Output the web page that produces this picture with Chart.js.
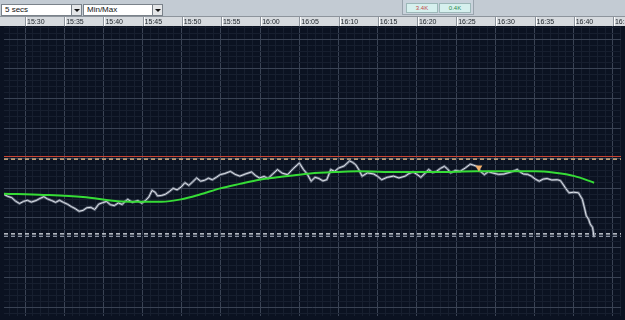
<!DOCTYPE html>
<html>
<head>
<meta charset="utf-8">
<script src="https://cdn.jsdelivr.net/npm/chart.js@4"></script>
<style>
  html, body { margin: 0; padding: 0; }
  body { width: 625px; height: 320px; background: #c3cbd3; position: relative; overflow: hidden; font-family: "Liberation Sans", Arial, sans-serif; }
  .toolbar { position: absolute; left: 0; top: 0; width: 625px; height: 16px; background: #c3cbd3; }
  .dd { position: absolute; top: 4px; height: 10px; background: #fff; border: 1px solid #7a828a; font-size: 8px; line-height: 10px; padding-left: 3px; color: #111; box-sizing: content-box; }
  .dd-btn { position: absolute; top: 4px; width: 9px; height: 10px; background: #e4e6e8; border: 1px solid #7a828a; }
  .dd-btn:after { content: ""; position: absolute; left: 2px; top: 4px; border-left: 3px solid transparent; border-right: 3px solid transparent; border-top: 3px solid #111; }
  .mini { position: absolute; left: 402px; top: -2px; width: 70px; height: 15px; background: #c9d3dc; border: 1px solid #9aa4ae; }
  .mini span { position: absolute; top: 4px; height: 8px; width: 30px; background: #d6f0ee; border: 1px solid #9cb8b8; font-size: 6px; line-height: 8px; text-align: center; }
  #wrap { position: absolute; left: 0; top: 16px; width: 625px; height: 304px; }
</style>
</head>
<body>
<div class="toolbar">
  <div class="dd" style="left:1px;width:66px;">5 secs</div>
  <div class="dd-btn" style="left:71px;"></div>
  <div class="dd" style="left:83px;width:65px;">Min/Max</div>
  <div class="dd-btn" style="left:152px;"></div>
  <div class="mini">
    <span style="left:3px;color:#c04848;">3.4K</span>
    <span style="left:36px;color:#2a8a4a;">0.4K</span>
  </div>
</div>
<div id="wrap"><canvas id="chart" width="625" height="304"></canvas></div>
<script>
// time in minutes of the day (15:30 = 930)
const priceTimes = [927.3, 927.8, 928.3, 928.8, 929.3, 929.8, 930.3, 930.8, 931.4, 931.9,
  932.4, 932.9, 933.4, 933.9, 934.4, 934.9, 935.4, 935.9, 936.4, 936.9,
  937.4, 937.9, 938.4, 938.9, 939.4, 939.9, 940.4, 940.9, 941.4, 941.9,
  942.4, 942.8, 943.1, 943.7, 944.4, 944.9, 945.4, 945.8, 946.2, 946.6,
  946.9, 947.4, 947.9, 948.4, 948.9, 949.4, 949.9, 950.4, 950.9, 951.4,
  951.9, 952.4, 952.9, 953.4, 953.9, 954.4, 954.9, 955.5, 956.2, 956.8,
  957.4, 958.2, 958.9, 959.4, 959.9, 960.5, 961.0, 961.6, 962.2, 962.8,
  963.5, 964.2, 965.0, 965.5, 966.0, 966.5, 967.0, 967.5, 968.0, 968.5,
  969.0, 969.5, 970.0, 970.7, 971.4, 971.8, 972.2, 972.6, 973.0, 973.7,
  974.5, 975.0, 975.5, 976.2, 977.0, 977.7, 978.5, 979.0, 979.5, 980.0,
  980.5, 981.0, 981.5, 982.0, 982.5, 983.0, 983.5, 983.9, 984.3, 984.9,
  985.5, 986.2, 986.8, 987.2, 987.6, 988.1, 988.6, 989.1, 989.6, 990.4,
  991.1, 992.0, 992.8, 993.2, 993.6, 994.1, 994.6, 995.1, 995.6, 996.1,
  996.6, 997.2, 997.9, 998.3, 998.6, 999.0, 999.4, 1000.0, 1000.6, 1001.1,
  1001.4, 1001.6, 1001.9, 1002.1, 1002.4, 1002.6];
const priceValues = [47.9, 47.2, 46.8, 45.6, 44.8, 45.5, 45.9, 45.3, 45.8, 46.5,
  47.1, 46.3, 45.8, 45.2, 45.9, 45.2, 44.6, 43.8, 43.1, 42.2,
  42.5, 43.4, 43.5, 42.8, 44.6, 45.1, 45.5, 44.4, 44.1, 45.0,
  44.5, 45.6, 46.2, 45.2, 45.8, 44.9, 45.9, 47.0, 49.2, 48.6,
  47.4, 47.5, 47.9, 48.8, 49.9, 49.4, 50.3, 51.8, 50.9, 52.1,
  53.4, 52.3, 52.6, 53.3, 52.8, 53.6, 54.5, 54.9, 55.6, 54.6,
  54.0, 54.8, 55.4, 54.2, 53.4, 53.9, 53.2, 54.7, 56.2, 55.0,
  54.5, 56.5, 58.4, 56.3, 54.7, 52.3, 53.6, 53.2, 52.4, 52.8,
  56.2, 55.6, 56.7, 57.4, 59.1, 58.6, 57.8, 56.1, 54.0, 55.1,
  54.7, 53.9, 52.8, 53.6, 54.0, 53.4, 54.0, 54.9, 55.4, 54.6,
  53.6, 54.9, 56.2, 55.2, 55.6, 56.6, 57.3, 56.4, 55.1, 55.9,
  55.6, 56.8, 58.0, 57.7, 57.3, 55.6, 54.5, 55.5, 55.1, 54.6,
  54.7, 55.4, 56.2, 55.3, 54.7, 54.6, 54.0, 53.0, 52.3, 53.0,
  53.2, 52.7, 52.8, 52.5, 51.4, 49.8, 48.4, 48.6, 48.4, 46.2,
  43.0, 40.7, 39.5, 37.9, 36.8, 33.5];

const avgTimes = [927.3, 932.4, 937.4, 942.4, 947.4, 949.9, 952.4, 954.9, 957.4, 959.9,
  962.5, 965.0, 967.5, 970.0, 972.5, 977.5, 982.5, 987.6, 992.6, 995.1,
  997.6, 1000.1, 1002.6];
const avgValues = [48.1, 47.7, 47.0, 45.5, 45.4, 46.2, 47.9, 49.9, 51.4, 52.8,
  53.7, 54.5, 55.1, 55.4, 55.6, 55.4, 55.4, 55.6, 55.6, 55.6,
  55.1, 54.0, 51.8];

// horizontal levels: high, high dashed, low dashed, low dashed
const levelValues = [60.6, 59.7, 34.6, 33.8];
const levelColors = ["#c84232", "#f2c890", "#e8ecf2", "#8a92a2"];
const levelDash = [[], [4, 3], [4, 3], [4, 3]];

const markerTimes = [987.9];
const markerValues = [56.9];

const xMin = 927.32, xMax = 1006.03;
const yMin = 7.05, yMax = 104.4;

function toPoints(xs, ys) {
  return xs.map((x, i) => ({ x: x, y: ys[i] }));
}

function fmtTime(v) {
  const h = Math.floor(v / 60);
  const m = Math.round(v - h * 60);
  return h + ":" + (m < 10 ? "0" + m : m);
}

const datasets = [];

datasets.push({
  data: toPoints(markerTimes, markerValues),
  showLine: false,
  pointStyle: "triangle",
  rotation: 180,
  pointRadius: 4,
  backgroundColor: "#f4b06c",
  borderColor: "#f4b06c",
  borderWidth: 0
});

datasets.push({
  data: toPoints(avgTimes, avgValues),
  borderColor: "#36dc36",
  borderWidth: 2,
  pointRadius: 0,
  cubicInterpolationMode: "monotone"
});

datasets.push({
  data: toPoints(priceTimes, priceValues),
  borderColor: "#dfe3ea",
  borderWidth: 1,
  pointRadius: 0,
  tension: 0
});

datasets.push({
  data: toPoints(priceTimes, priceValues),
  borderColor: "#646c7c",
  borderWidth: 2.6,
  pointRadius: 0,
  tension: 0
});

levelValues.forEach((v, i) => {
  datasets.push({
    data: [{ x: xMin, y: v }, { x: xMax, y: v }],
    borderColor: levelColors[i],
    borderWidth: 1.2,
    borderDash: levelDash[i],
    pointRadius: 0
  });
});

// background + time band
const bandPlugin = {
  id: "band",
  beforeDraw(chart) {
    const { ctx, chartArea } = chart;
    ctx.save();
    ctx.fillStyle = "#0b1221";
    ctx.fillRect(0, chartArea.top, chart.width, chart.height - chartArea.top);
    ctx.fillStyle = "#d6dade";
    ctx.fillRect(0, 0, chart.width, chartArea.top);
    ctx.fillStyle = "#8d949c";
    ctx.fillRect(0, 0, chart.width, 1);
    const xs = chart.scales.x;
    xs.ticks.forEach(t => {
      if (Math.round(t.value) % 5 !== 0) return;
      const px = Math.round(xs.getPixelForValue(t.value)) + 0.5;
      ctx.fillStyle = "#8d949c";
      ctx.fillRect(px - 0.5, 0, 1, chartArea.top);
      ctx.fillStyle = "#ffffff";
      ctx.fillRect(px + 0.5, 1, 1, chartArea.top - 1);
    });
    ctx.restore();
  }
};

new Chart(document.getElementById("chart"), {
  type: "line",
  data: { datasets },
  options: {
    responsive: false,
    animation: false,
    layout: { padding: 0 },
    plugins: { legend: { display: false }, tooltip: { enabled: false } },
    scales: {
      x: {
        type: "linear",
        position: "top",
        min: xMin,
        max: xMax,
        afterFit: s => { s.height = 10; s.paddingLeft = 0; s.paddingRight = 0; },
        border: { display: false },
        grid: {
          drawTicks: false,
          color: c => Math.round(c.tick.value) % 5 === 0 ? "#3a4354" : "#171f2f",
          lineWidth: 1
        },
        ticks: {
          stepSize: 1,
          includeBounds: false,
          autoSkip: false,
          maxRotation: 0,
          align: "start",
          labelOffset: 2,
          padding: 0,
          color: "#1c2228",
          font: { family: "Liberation Sans", size: 7 },
          callback: v => Math.round(v) % 5 === 0 ? fmtTime(v) : ""
        }
      },
      y: {
        type: "linear",
        position: "right",
        min: yMin,
        max: yMax,
        afterFit: s => { s.width = 0; s.paddingTop = 0; s.paddingBottom = 0; },
        border: { display: false },
        grid: {
          drawTicks: false,
          color: c => Math.round(c.tick.value) % 10 === 0 ? "#3a4354" : "#171f2f",
          lineWidth: 1
        },
        ticks: { display: false, stepSize: 2, includeBounds: false }
      }
    }
  },
  plugins: [bandPlugin]
});
</script>
</body>
</html>
